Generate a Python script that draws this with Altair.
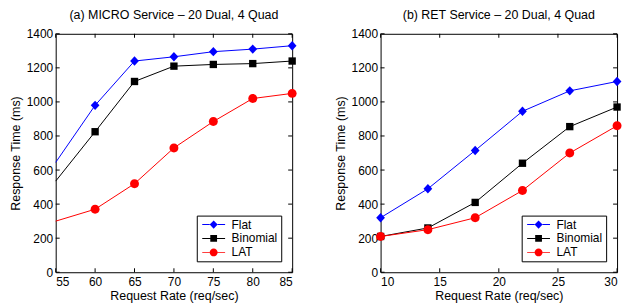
import altair as alt
import pandas as pd

# ---- data ----
series_names = ["Flat", "Binomial", "LAT"]
series_colors = ["#0000ff", "#000000", "#ff0000"]

micro_rate = [55, 60, 65, 70, 75, 80, 85]
micro_flat = [645, 980, 1240, 1265, 1295, 1310, 1330]
micro_binomial = [535, 825, 1120, 1210, 1220, 1225, 1240]
micro_lat = [300, 370, 520, 730, 885, 1020, 1050]

ret_rate = [10, 14, 18, 22, 26, 30]
ret_flat = [320, 490, 715, 945, 1065, 1120]
ret_binomial = [210, 260, 410, 640, 855, 970]
ret_lat = [210, 250, 320, 480, 700, 860]

micro_xticks = [55, 60, 65, 70, 75, 80, 85]
ret_xticks = [10, 15, 20, 25, 30]
y_ticks = [0, 200, 400, 600, 800, 1000, 1200, 1400]

micro_title = "(a) MICRO Service \u2013 20 Dual, 4 Quad"
ret_title = "(b) RET Service \u2013 20 Dual, 4 Quad"

# ---- styling ----
FONT = "Liberation Sans"
W, H = 238, 240

marker_paths = [
    "M0,-0.94L0.88,0L0,0.94L-0.88,0Z",
    "M-0.74,-0.74L0.74,-0.74L0.74,0.74L-0.74,0.74Z",
    "M-0.9,0A0.9,0.9 0 1,1 0.9,0A0.9,0.9 0 1,1 -0.9,0Z",
]


def legend_path(marker, half):
    line = ("M-2.875,-0.125L-%s,-0.125L-%s,0.125L-2.875,0.125Z "
            "M%s,-0.125L2.875,-0.125L2.875,0.125L%s,0.125Z ") % (half, half, half, half)
    return line + marker


legend_paths = [
    legend_path("M0,-1.05L1,0L0,1.05L-1,0Z", "1"),
    legend_path("M-0.85,-0.85L0.85,-0.85L0.85,0.85L-0.85,0.85Z", "0.85"),
    legend_path("M-1,0A1,1 0 1,1 1,0A1,1 0 1,1 -1,0Z", "1"),
]


def long_df(rates, cols):
    rows = []
    for name, vals in zip(series_names, cols):
        for r, v in zip(rates, vals):
            rows.append({"rate": r, "time": v, "series": name})
    return pd.DataFrame(rows)


def panel(title, rates, cols, xticks, marker_min):
    df = long_df(rates, cols)
    xdom = [xticks[0], xticks[-1]]
    x = alt.X("rate:Q",
              scale=alt.Scale(domain=xdom, nice=False, zero=False),
              axis=alt.Axis(values=xticks, title="Request Rate (req/sec)",
                            grid=False, domain=False, ticks=False,
                            labelPadding=4, titlePadding=2, format="d"))
    y = alt.Y("time:Q",
              scale=alt.Scale(domain=[0, 1400], nice=False),
              axis=alt.Axis(values=y_ticks, title="Response Time (ms)",
                            grid=False, domain=False, ticks=False,
                            labelPadding=3, titlePadding=4, format="d"))
    cscale = alt.Scale(domain=series_names, range=series_colors)

    leg = alt.Legend(
        title=None, orient="bottom-right", offset=11,
        fillColor="white", strokeColor="black", padding=3,
        symbolSize=64, symbolStrokeWidth=0, symbolOffset=8, symbolOpacity=1,
        labelFont=FONT, labelFontSize=12, labelColor="black",
        labelOffset=12, rowPadding=2,
    )
    color = alt.Color("series:N", scale=cscale, legend=leg)

    # invisible layer that only provides the legend (first, so its symbols win)
    legend_layer = alt.Chart(df).mark_point(filled=True, opacity=0).encode(
        x=x, y=y, color=color,
        shape=alt.Shape("series:N",
                        scale=alt.Scale(domain=series_names, range=legend_paths),
                        legend=leg),
    )

    lines = alt.Chart(df).mark_line(strokeWidth=1, clip=False).encode(
        x=x, y=y, color=color)

    point_layers = []
    for name, path in zip(series_names, marker_paths):
        point_layers.append(
            alt.Chart(df).transform_filter(
                (alt.datum.series == name) & (alt.datum.rate >= marker_min)
            ).mark_point(filled=True, size=100, opacity=1, strokeWidth=0,
                         shape=path).encode(x=x, y=y, color=color)
        )

    xt_df = pd.DataFrame({"rate": xticks})
    yt_df = pd.DataFrame({"time": y_ticks})
    tick_len = 4
    xt_bottom = alt.Chart(xt_df).mark_rule(color="black", strokeWidth=1).encode(
        x=x, y=alt.value(H), y2=alt.value(H - tick_len))
    xt_top = alt.Chart(xt_df).mark_rule(color="black", strokeWidth=1).encode(
        x=x, y=alt.value(0), y2=alt.value(tick_len))
    yt_left = alt.Chart(yt_df).mark_rule(color="black", strokeWidth=1).encode(
        y=y, x=alt.value(0), x2=alt.value(tick_len))
    yt_right = alt.Chart(yt_df).mark_rule(color="black", strokeWidth=1).encode(
        y=y, x=alt.value(W - tick_len), x2=alt.value(W))

    return alt.layer(legend_layer, xt_bottom, xt_top, yt_left, yt_right, lines,
                     *point_layers).properties(
        width=W, height=H,
        title=alt.TitleParams(title, font=FONT, fontSize=12.5, fontWeight="normal",
                              color="black", anchor="middle", frame="group",
                              offset=6),
    )


left = panel(micro_title, micro_rate, [micro_flat, micro_binomial, micro_lat],
             micro_xticks, 60)
right = panel(ret_title, ret_rate, [ret_flat, ret_binomial, ret_lat],
              ret_xticks, 0)

chart = alt.hconcat(left, right, spacing=32, background="white",
                    padding=0).resolve_scale(
    color="independent", shape="independent", x="independent"
).configure_view(stroke="black", strokeWidth=1).configure_axis(
    labelFont=FONT, titleFont=FONT, labelFontSize=12, titleFontSize=12.5,
    labelColor="black", titleColor="black", titleFontWeight="normal",
)

chart.save("out.html", embed_options={"renderer": "svg", "actions": False})
